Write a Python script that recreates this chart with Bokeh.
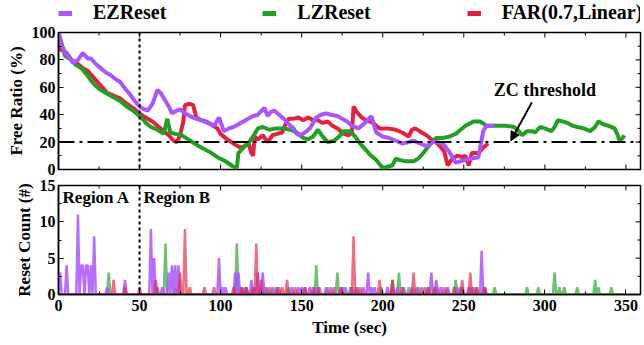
import numpy as np
from bokeh.plotting import figure
from bokeh.layouts import column
from bokeh.models import (Range1d, LinearAxis, FixedTicker, Span, Label, Legend, LegendItem,
                          Arrow, NormalHead)
from bokeh.embed import file_html
from bokeh.resources import INLINE

# ---------------- data ----------------
ez_t = [0, 2, 5, 9, 12, 15, 18, 20, 23, 26, 29, 32, 35, 38, 41, 44, 47, 51, 55, 58, 61, 63, 65, 68, 70,
        73, 75, 78, 81, 85, 88, 92, 96, 99, 102, 105, 108, 111, 114, 117, 120, 123, 127, 129, 131, 133,
        136, 139, 142, 145, 147, 149, 152, 155, 159, 162, 165, 168, 172, 175, 178, 181, 185, 189, 193,
        196, 200, 204, 208, 212, 216, 219, 223, 227, 231, 234, 237, 241, 245, 248, 251, 255, 259, 262,
        264, 269]
ez_v = [100, 90, 84, 78, 80, 85, 81, 81, 77, 74, 71, 69, 66, 64, 59, 55, 50, 45, 43, 48, 58, 56, 52, 46, 41,
        43, 44, 41, 39, 37, 36, 34, 32, 38, 28, 30, 31, 33, 35, 37, 39, 40, 45, 39, 42, 43,
        40, 37, 33, 30, 26, 25, 27, 30, 38, 40, 41, 40, 39, 37, 35, 32, 30, 34, 39,
        27, 24, 23, 21, 19, 20, 21, 19, 17, 20, 20, 19, 13, 5, 6, 7, 8, 9, 28,
        32, 32]

lz_t = [0, 4, 8, 11, 14, 17, 20, 23, 26, 29, 32, 35, 38, 42, 46, 51, 54, 57, 61, 65, 67, 69, 72, 76, 80,
        84, 88, 93, 98, 103, 108, 110, 111, 114, 117, 120, 123, 126, 130, 134, 139, 143, 147, 151, 154,
        157, 160, 163, 166, 170, 173, 176, 180, 183, 186, 189, 192, 196, 200, 203, 206, 208, 210, 214,
        219, 222, 225, 229, 233, 237, 241, 245, 248, 251, 256, 260, 264, 270, 276, 281, 284, 286, 289,
        292, 294, 297, 300, 304, 306, 308, 311, 314, 317, 320, 324, 328, 331, 333, 336, 339, 343, 345,
        346, 348, 349]
lz_v = [100, 83, 80, 76, 74, 70, 65, 61, 58, 56, 54, 52, 50, 46, 43, 38, 34, 31, 29, 26, 37, 27, 26, 25, 22,
        19, 16, 13, 9, 6, 2, 1, 12, 16, 19, 24, 30, 31, 29, 30, 30, 29, 27, 23, 22,
        24, 29, 24, 20, 21, 24, 28, 28, 24, 19, 15, 11, 7, 1, 2, 3, 8, 7, 6,
        6, 8, 12, 18, 23, 23, 24, 26, 29, 32, 35, 35, 32, 32, 32, 31, 28, 25, 28,
        28, 27, 31, 30, 28, 31, 36, 35, 34, 32, 31, 30, 28, 31, 35, 33, 32, 30, 25,
        21, 23, 25]

far_t = [0, 1, 5, 8, 12, 15, 18, 21, 24, 27, 30, 34, 38, 42, 47, 51, 55, 58, 61, 65, 68, 71, 73, 75, 77,
         78, 81, 83, 85, 88, 91, 94, 98, 100, 104, 108, 112, 115, 117, 119, 120, 121, 123, 126, 129,
         132, 135, 138, 140, 142, 145, 148, 151, 154, 157, 160, 163, 166, 169, 172, 176, 179, 181, 182,
         184, 187, 190, 194, 198, 203, 208, 212, 216, 218, 220, 224, 227, 230, 233, 236, 238, 240, 243,
         246, 249, 251, 253, 255, 259, 262, 265]
far_v = [100, 88, 85, 80, 77, 74, 72, 68, 64, 60, 56, 54, 52, 48, 44, 40, 37, 35, 32, 28, 25, 21, 20, 25, 35,
         47, 48, 47, 38, 36, 35, 33, 30, 26, 22, 19, 16, 17, 20, 12, 10, 24, 22, 25, 20,
         25, 26, 27, 33, 37, 37, 38, 36, 38, 36, 36, 34, 35, 32, 30, 26, 25, 27, 46,
         42, 38, 36, 34, 30, 30, 29, 27, 24, 29, 30, 27, 25, 22, 20, 16, 13, 3, 8,
         10, 9, 10, 3, 12, 12, 16, 19]

# reset-count spikes (time, count); zero elsewhere
ez_rt = [1, 5, 12, 14, 15, 17, 18, 20, 22, 30, 41, 57, 59, 61, 64, 68, 70, 72, 74, 99, 101, 103, 109, 111,
         113, 115, 119, 121, 123, 126, 128, 132, 136, 144, 148, 150, 152, 155, 158, 160, 165, 170, 175,
         177, 181, 184, 188, 191, 193, 195, 203, 206, 209, 213, 218, 221, 226, 230, 233, 236, 240, 246,
         249, 253, 256, 261, 263]
ez_rc = [3, 4, 11, 4, 4, 4, 4, 4, 8, 1, 2, 9, 5, 1, 1, 3, 4, 4, 4, 5, 1, 1, 3, 3,
         1, 1, 2, 1, 3, 3, 1, 1, 1, 1, 1, 1, 1, 1, 1, 1, 1, 1, 1,
         1, 1, 1, 1, 3, 1, 1, 1, 1, 1, 1, 1, 1, 1, 3, 2, 1, 1, 1,
         1, 1, 1, 6, 1]
ez_end = 265

lz_rt = [31, 66, 72, 110, 116, 128, 134, 142, 159, 166, 172, 175, 180, 184, 199, 206, 210, 216, 222, 228,
         234, 240, 245, 248, 255, 258, 262, 269, 289, 296, 306, 309, 312, 320, 331, 333, 341]
lz_rc = [3, 7, 1, 7, 1, 1, 1, 1, 4, 1, 3, 1, 1, 1, 1, 2, 3, 1, 1, 1,
         1, 1, 2, 1, 1, 1, 1, 1, 1, 1, 3, 1, 1, 1, 2, 1, 1]
lz_end = 350

far_rt = [34, 41, 50, 60, 75, 78, 81, 90, 96, 108, 113, 116, 120, 122, 125, 130, 135, 138, 141, 146, 152,
          157, 161, 168, 174, 182, 186, 198, 206, 212, 219, 224, 228, 232, 238, 244, 249, 254, 258, 263]
far_rc = [2, 1, 1, 2, 3, 9, 1, 1, 1, 1, 1, 1, 1, 7, 2, 1, 1, 1, 2, 1, 1,
          1, 1, 1, 1, 8, 1, 2, 2, 1, 3, 1, 1, 1, 1, 1, 2, 3, 1, 1]
far_end = 265

series_names = ["EZReset", "LZReset", "FAR(0.7,Linear)"]
x_ticks = [0, 50, 100, 150, 200, 250, 300, 350]
x_minor = [25, 75, 125, 175, 225, 275, 325]
top_y_ticks = [0, 20, 40, 60, 80, 100]
top_y_minor = [10, 30, 50, 70, 90]
bot_y_ticks = [0, 5, 10, 15]
bot_y_minor = [2.5, 7.5, 12.5]

C_EZ = "#aa55ff"
C_LZ = "#22a022"
C_FAR = "#e5213f"
FONT = "Liberation Serif"
X_MAX = 359
W = 644
ML = 58
MR = 4


def dense(times, counts, end):
    t = np.arange(0, end + 1)
    c = np.zeros(len(t))
    for ti, ci in zip(times, counts):
        c[ti] = ci
    return t, c


def style_axis(ax):
    ax.major_label_text_font = FONT
    ax.major_label_text_font_style = "bold"
    ax.major_label_text_font_size = "16px"
    ax.major_label_standoff = 3
    ax.major_label_text_color = "black"
    ax.axis_label_text_font = FONT
    ax.axis_label_text_font_style = "bold"
    ax.axis_label_text_font_size = "17px"
    ax.axis_label_text_color = "black"
    ax.axis_label_standoff = 3
    ax.major_tick_in = 5
    ax.major_tick_out = 0
    ax.minor_tick_in = 3
    ax.minor_tick_out = 0
    ax.axis_line_color = "black"
    ax.axis_line_width = 1.5
    ax.major_tick_line_color = "black"
    ax.minor_tick_line_color = "black"


def mirror_ticks(p, xt, xmt, y_top, yt, ymt, bottom=False, y_bot=0):
    # short inward tick marks on the other frame edges
    p.ray(x=xt, y=[y_top] * len(xt), length=5, angle=-np.pi / 2, length_units="screen",
          line_color="black", line_width=1)
    p.ray(x=xmt, y=[y_top] * len(xmt), length=3, angle=-np.pi / 2, length_units="screen",
          line_color="black", line_width=1)
    if bottom:
        p.ray(x=xt, y=[y_bot] * len(xt), length=5, angle=np.pi / 2, length_units="screen",
              line_color="black", line_width=1)
        p.ray(x=xmt, y=[y_bot] * len(xmt), length=3, angle=np.pi / 2, length_units="screen",
              line_color="black", line_width=1)
    p.ray(x=[X_MAX] * len(yt), y=yt, length=5, angle=np.pi, length_units="screen",
          line_color="black", line_width=1)
    p.ray(x=[X_MAX] * len(ymt), y=ymt, length=3, angle=np.pi, length_units="screen",
          line_color="black", line_width=1)


def make_fig(yr, h, mbt, mbb):
    p = figure(width=W, height=h, x_range=Range1d(0, X_MAX), y_range=yr,
               output_backend="svg", toolbar_location=None, x_axis_location=None,
               y_axis_location=None,
               min_border_left=ML, min_border_right=MR, min_border_top=mbt, min_border_bottom=mbb)
    p.xgrid.visible = False
    p.ygrid.visible = False
    p.outline_line_color = "black"
    p.outline_line_width = 1.5
    return p


# ---------------- legend strip ----------------
p0 = figure(width=W, height=25, x_range=Range1d(0, 1), y_range=Range1d(0, 1),
            output_backend="svg", toolbar_location=None, x_axis_location=None, y_axis_location=None,
            min_border_left=ML, min_border_right=0, min_border_top=0, min_border_bottom=0)
p0.xgrid.visible = False
p0.ygrid.visible = False
p0.outline_line_color = None
# legend-only renderers, kept outside the visible range of this strip
leg_r = [p0.line(x=[0, 1], y=[-5, -5], line_color=col, line_width=5) for col in (C_EZ, C_LZ, C_FAR)]
legend = Legend(items=[LegendItem(label=n, renderers=[r]) for n, r in zip(series_names, leg_r)],
                orientation="horizontal", location=(0, 1),
                label_text_font=FONT, label_text_font_style="bold", label_text_font_size="20px",
                label_text_color="black",
                glyph_width=14, glyph_height=20, label_height=20, label_standoff=21, spacing=96,
                border_line_color=None, background_fill_alpha=0, padding=0, margin=0)
p0.add_layout(legend)

# ---------------- top figure ----------------
p1 = make_fig(Range1d(0, 100), 152, 7, 8)
ax = LinearAxis(ticker=FixedTicker(ticks=top_y_ticks, minor_ticks=top_y_minor), axis_label="Free Ratio (%)")
style_axis(ax)
p1.add_layout(ax, "left")
mirror_ticks(p1, x_ticks, x_minor, 100, top_y_ticks, top_y_minor, bottom=True, y_bot=0)

p1.add_layout(Span(location=20, dimension="width", line_color="black", line_width=2,
                   line_dash="16 5 3 5"))
p1.add_layout(Span(location=50, dimension="height", line_color="black", line_width=2,
                   line_dash="3 3"))

p1.line(far_t, far_v, line_color=C_FAR, line_width=4)
p1.line(lz_t, lz_v, line_color=C_LZ, line_width=4)
p1.line(ez_t, ez_v, line_color=C_EZ, line_width=4)

p1.add_layout(Label(x=300, y=58, text="ZC threshold", text_align="center", text_baseline="middle",
                    text_font=FONT, text_font_style="bold", text_font_size="18px", text_color="black"))
p1.add_layout(Arrow(end=NormalHead(size=9, fill_color="black", line_color="black"),
                    x_start=292, y_start=49, x_end=279, y_end=21, line_width=2, line_color="black"))

# ---------------- bottom figure ----------------
p2 = make_fig(Range1d(0, 15), 168, 8, 51)
ax = LinearAxis(ticker=FixedTicker(ticks=bot_y_ticks, minor_ticks=bot_y_minor), axis_label="Reset Count (#)")
style_axis(ax)
p2.add_layout(ax, "left")
ax = LinearAxis(ticker=FixedTicker(ticks=x_ticks, minor_ticks=x_minor), axis_label="Time (sec)")
style_axis(ax)
ax.major_label_standoff = 5
ax.axis_label_standoff = 4
p2.add_layout(ax, "below")
mirror_ticks(p2, x_ticks, x_minor, 15, bot_y_ticks, bot_y_minor)

p2.add_layout(Span(location=50, dimension="height", line_color="black", line_width=2,
                   line_dash="3 3"))
t, c = dense(lz_rt, lz_rc, lz_end)
p2.line(t, c, line_color=C_LZ, line_width=2.5, line_alpha=0.65)
t, c = dense(ez_rt, ez_rc, ez_end)
p2.line(t, c, line_color=C_EZ, line_width=2.5, line_alpha=0.85)
t, c = dense(far_rt, far_rc, far_end)
p2.line(t, c, line_color=C_FAR, line_width=2.5, line_alpha=0.65)

for xx, txt in [(2.5, "Region A"), (52.5, "Region B")]:
    p2.add_layout(Label(x=xx, y=13.3, text=txt, text_align="left", text_baseline="middle",
                        text_font=FONT, text_font_style="bold", text_font_size="17px", text_color="black"))

layout = column(p0, p1, p2, spacing=0)
open("out.html", "w").write(file_html(layout, INLINE))
